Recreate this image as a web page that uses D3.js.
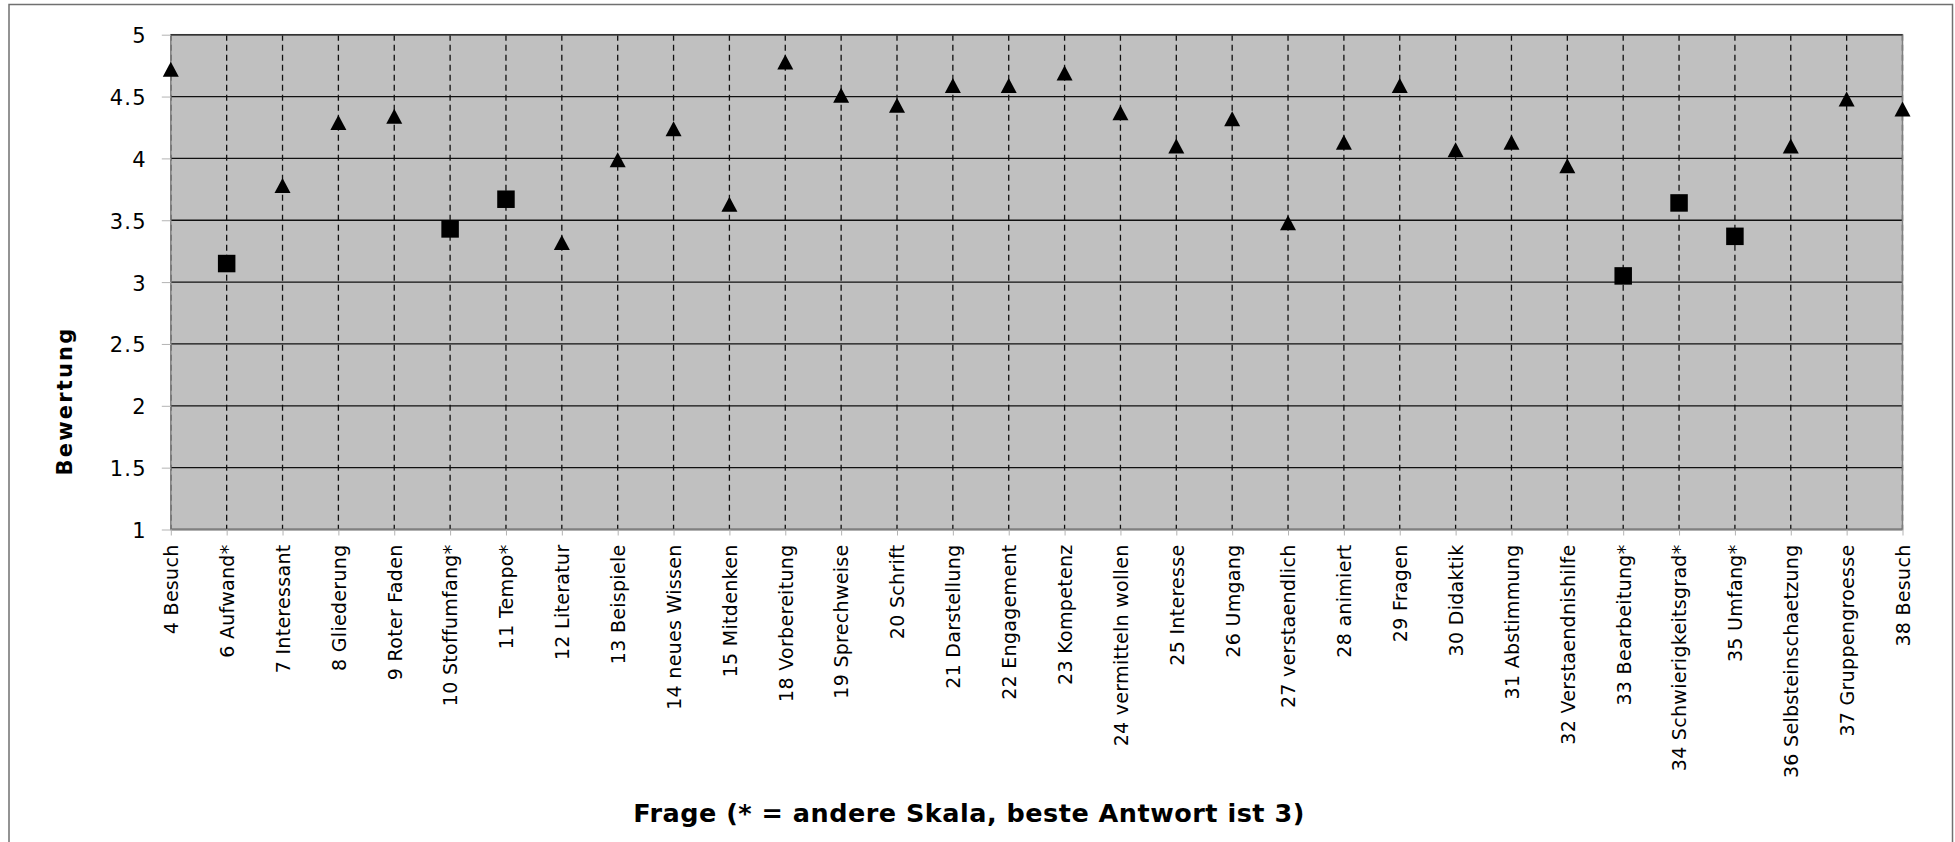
<!DOCTYPE html>
<html>
<head>
<meta charset="utf-8">
<script src="https://cdn.jsdelivr.net/npm/d3@7"></script>
<style>
  body { margin: 0; background: white; }
  svg { display: block; }
</style>
</head>
<body>
<svg id="chart" width="1955" height="842"></svg>
<script>
const questions = [
  '4 Besuch', '6 Aufwand*', '7 Interessant', '8 Gliederung', '9 Roter Faden',
  '10 Stoffumfang*', '11 Tempo*', '12 Literatur', '13 Beispiele', '14 neues Wissen',
  '15 Mitdenken', '18 Vorbereitung', '19 Sprechweise', '20 Schrift', '21 Darstellung',
  '22 Engagement', '23 Kompetenz', '24 vermitteln wollen', '25 Interesse', '26 Umgang',
  '27 verstaendlich', '28 animiert', '29 Fragen', '30 Didaktik', '31 Abstimmung',
  '32 Verstaendnishilfe', '33 Bearbeitung*', '34 Schwierigkeitsgrad*', '35 Umfang*',
  '36 Selbsteinschaetzung', '37 Gruppengroesse', '38 Besuch'
];

// normal scale (triangles), null where the question uses the other scale
const normalScale = [
  4.72, null, 3.78, 4.29, 4.34,
  null, null, 3.32, 3.99, 4.24,
  3.63, 4.78, 4.51, 4.43, 4.59,
  4.59, 4.69, 4.37, 4.10, 4.32,
  3.48, 4.13, 4.59, 4.07, 4.13,
  3.94, null, null, null,
  4.10, 4.48, 4.40
];

// other scale (* = beste Antwort ist 3), squares
const otherScale = [
  null, 3.15, null, null, null,
  3.43, 3.67, null, null, null,
  null, null, null, null, null,
  null, null, null, null, null,
  null, null, null, null, null,
  null, 3.05, 3.64, 3.37,
  null, null, null
];

const yTicks = [1, 1.5, 2, 2.5, 3, 3.5, 4, 4.5, 5];

const svg = d3.select('#chart');
const plot = { left: 170.8, right: 1902.5, top: 34.7, bottom: 529.5 };

// outer frame
svg.append('rect')
  .attr('x', 9).attr('y', 4.5)
  .attr('width', 1943.5).attr('height', 850)
  .attr('fill', 'white')
  .attr('stroke', '#707070')
  .attr('stroke-width', 1.5);

const x = d3.scalePoint()
  .domain(questions)
  .range([plot.left, plot.right]);

const y = d3.scaleLinear()
  .domain([1, 5])
  .range([plot.bottom, plot.top]);

// plot background
svg.append('rect')
  .attr('x', plot.left).attr('y', plot.top)
  .attr('width', plot.right - plot.left)
  .attr('height', plot.bottom - plot.top)
  .attr('fill', '#c0c0c0');

// horizontal grid
svg.append('g')
  .selectAll('line')
  .data(yTicks)
  .enter().append('line')
  .attr('x1', plot.left).attr('x2', plot.right)
  .attr('y1', d => y(d)).attr('y2', d => y(d))
  .attr('stroke', '#111')
  .attr('stroke-width', 1.3);

// vertical dashed grid
svg.append('g')
  .selectAll('line')
  .data(questions)
  .enter().append('line')
  .attr('x1', d => x(d)).attr('x2', d => x(d))
  .attr('y1', plot.top).attr('y2', plot.bottom)
  .attr('stroke', '#111')
  .attr('stroke-width', 1.3)
  .attr('stroke-dasharray', '6,4');

// plot border
svg.append('rect')
  .attr('x', plot.left).attr('y', plot.top)
  .attr('width', plot.right - plot.left)
  .attr('height', plot.bottom - plot.top)
  .attr('fill', 'none')
  .attr('stroke', '#808080')
  .attr('stroke-width', 1.5);
svg.append('line')
  .attr('x1', plot.left).attr('x2', plot.right)
  .attr('y1', plot.top).attr('y2', plot.top)
  .attr('stroke', '#333').attr('stroke-width', 1.5);

// y axis
const yAxis = svg.append('g')
  .attr('transform', `translate(${plot.left},0)`)
  .call(d3.axisLeft(y).tickValues(yTicks).tickSize(9).tickPadding(15).tickFormat(d3.format('')));
yAxis.select('.domain').remove();
yAxis.selectAll('line').attr('stroke', '#b3b3b3');
yAxis.selectAll('text')
  .attr('fill', '#000')
  .attr('dy', '0.38em')
  .style('font-family', '"DejaVu Sans", sans-serif')
  .style('font-size', '21px')
  .style('letter-spacing', '1.2px');

// x axis
const xAxis = svg.append('g')
  .attr('transform', `translate(0,${plot.bottom})`)
  .call(d3.axisBottom(x).tickSize(6).tickPadding(0));
xAxis.select('.domain').remove();
xAxis.selectAll('line').attr('stroke', '#b3b3b3');
xAxis.selectAll('text')
  .attr('fill', '#000')
  .attr('text-anchor', 'end')
  .attr('transform', 'translate(0,15) rotate(-90)')
  .attr('x', 0).attr('y', 0)
  .attr('dy', '0.36em')
  .style('font-family', '"DejaVu Sans", sans-serif')
  .style('font-size', '19px')
  .style('letter-spacing', '0.3px');

// markers
const triW = 16, triH = 15;
const triPath = `M0,${-triH / 2}L${triW / 2},${triH / 2}L${-triW / 2},${triH / 2}Z`;
svg.append('g')
  .selectAll('path')
  .data(questions.map((q, i) => ({ q, v: normalScale[i] })).filter(d => d.v !== null))
  .enter().append('path')
  .attr('d', triPath)
  .attr('transform', d => `translate(${x(d.q)},${y(d.v)})`)
  .attr('fill', '#000');

const sq = 17.5;
svg.append('g')
  .selectAll('rect')
  .data(questions.map((q, i) => ({ q, v: otherScale[i] })).filter(d => d.v !== null))
  .enter().append('rect')
  .attr('x', d => x(d.q) - sq / 2)
  .attr('y', d => y(d.v) - sq / 2)
  .attr('width', sq).attr('height', sq)
  .attr('fill', '#000');

// axis titles
svg.append('text')
  .attr('transform', 'translate(72,401) rotate(-90)')
  .attr('text-anchor', 'middle')
  .style('font-family', '"DejaVu Sans", sans-serif')
  .style('font-size', '21px')
  .style('font-weight', 'bold')
  .style('letter-spacing', '2.2px')
  .text('Bewertung');

svg.append('text')
  .attr('x', 969).attr('y', 821.7)
  .attr('text-anchor', 'middle')
  .style('font-family', '"DejaVu Sans", sans-serif')
  .style('font-size', '25.5px')
  .style('font-weight', 'bold')
  .style('letter-spacing', '0.5px')
  .text('Frage (* = andere Skala, beste Antwort ist 3)');
</script>
</body>
</html>
